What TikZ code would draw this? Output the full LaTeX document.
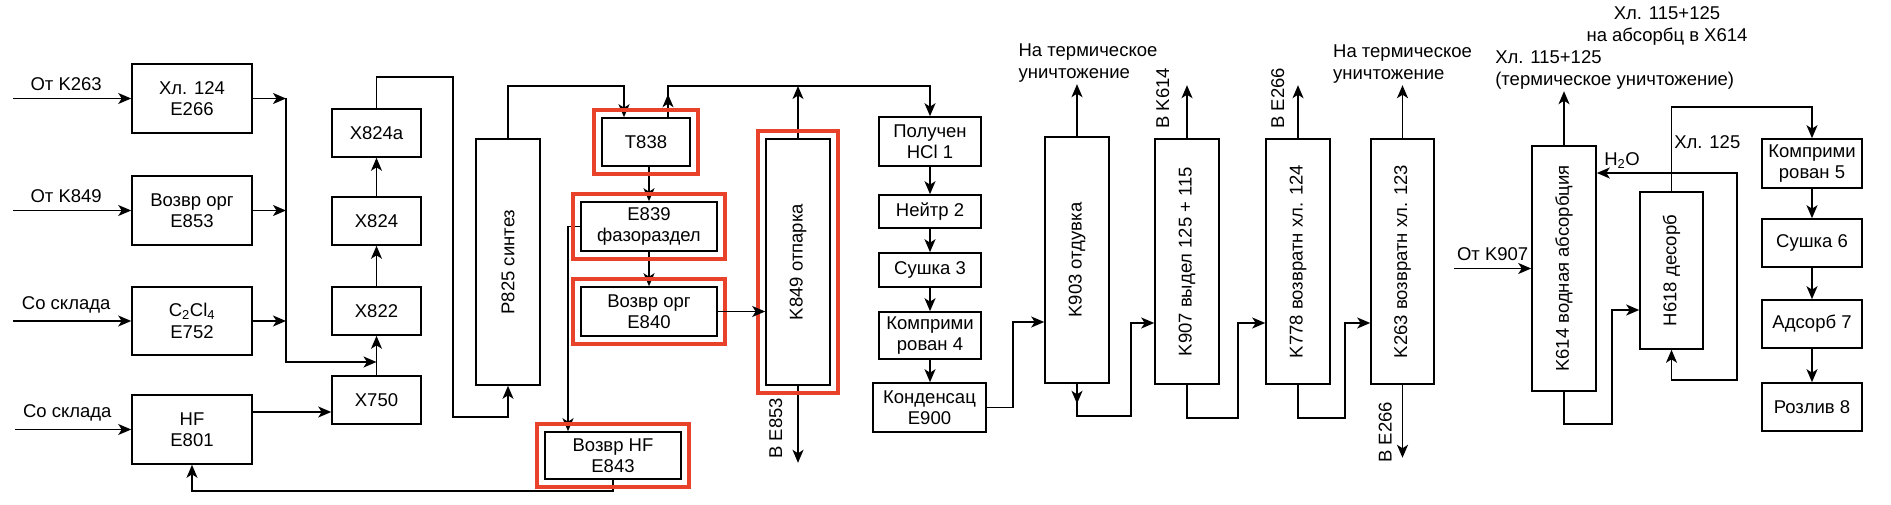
\documentclass[tikz,border=0pt]{standalone}
\usepackage{fontspec}
\setmainfont{Liberation Sans}
\usepackage{graphicx}
\usetikzlibrary{arrows.meta,fit}
\definecolor{hlred}{RGB}{232,67,42}

\begin{document}
\begin{tikzpicture}[x=1pt,y=-1pt,line width=1.6pt,
  >={Stealth[length=13pt,width=11pt,inset=3.5pt]},
  font=\fontsize{18.5}{21.5}\selectfont,
  box/.style={draw,inner sep=0pt,align=center},
  sz/.style 2 args={minimum width=#1,minimum height=#2},
  hl/.style={draw=hlred,line width=4.5pt,inner sep=7pt},
  note/.style={align=left,inner sep=1.5pt},
  side/.style={rotate=90,anchor=south,inner sep=#1}]
  \useasboundingbox (0,0) rectangle (1891,505);

  % feed tanks
  \node[box,sz={120}{69}] (e266) at (192,98.5) {Хл. 124\\E266};
  \node[box,sz={120}{69}] (e853) at (192,210.5) {Возвр орг\\E853};
  \node[box,sz={120}{68}] (e752) at (192,321) {C\textsubscript{2}Cl\textsubscript{4}\\E752};
  \node[box,sz={120}{69}] (e801) at (192,429.5) {HF\\E801};
  \node[box,sz={89}{48}] (x824a) at (376.5,133) {X824a};
  \node[box,sz={89}{48}] (x824) at (376.5,221) {X824};
  \node[box,sz={89}{48}] (x822) at (376.5,311) {X822};
  \node[box,sz={89}{48}] (x750) at (376.5,400) {X750};

  % synthesis
  \node[box,sz={64}{246}] (p825) at (508,262) {\rotatebox{90}{P825 синтез}};
  \node[box,sz={88}{48}] (t838) at (646,142) {T838};
  \node[box,sz={136}{49}] (e839) at (649,226.5) {E839\\фазораздел};
  \node[box,sz={136}{49}] (e840) at (649,311.5) {Возвр орг\\E840};
  \node[box,sz={136}{47}] (e843) at (613,455.5) {Возвр HF\\E843};
  \node[box,sz={64}{246}] (k849) at (798,262) {\rotatebox{90}{K849 отпарка}};

  % HCl line
  \node[box,sz={102}{49}] (hcl1) at (930,141.5) {Получен\\HCl 1};
  \node[box,sz={102}{33}] (n2) at (930,211.5) {Нейтр 2};
  \node[box,sz={102}{34}] (s3) at (930,270) {Сушка 3};
  \node[box,sz={102}{47}] (c4) at (930,335.5) {Комприми\\рован 4};
  \node[box,sz={113}{49}] (e900) at (929.5,407.5) {Конденсац\\E900};

  % columns
  \node[box,sz={64}{246}] (k903) at (1077,260) {\rotatebox{90}{K903 отдувка}};
  \node[box,sz={64}{245}] (k907) at (1187,261.5) {\rotatebox{90}{K907 выдел 125 + 115}};
  \node[box,sz={64}{245}] (k778) at (1298,261.5) {\rotatebox{90}{K778 возвратн хл. 124}};
  \node[box,sz={63}{245}] (k263) at (1402.5,261.5) {\rotatebox{90}{K263 возвратн хл. 123}};
  \node[box,sz={64}{245}] (k614) at (1564,268.5) {\rotatebox{90}{K614 водная абсорбция}};
  \node[box,sz={63}{157}] (h618) at (1671.5,270.5) {\rotatebox{90}{H618 десорб}};
  \node[box,sz={100}{49}] (c5) at (1812,163.5) {Комприми\\рован 5};
  \node[box,sz={100}{48}] (s6) at (1812,243) {Сушка 6};
  \node[box,sz={100}{48}] (a7) at (1812,324) {Адсорб 7};
  \node[box,sz={100}{48}] (r8) at (1812,407) {Розлив 8};

  \coordinate (in1) at (13,98.5);
  \coordinate (in2) at (13,210.5);
  \coordinate (in3) at (13,321);
  \coordinate (in4) at (15,429.5);
  \coordinate (in5) at (1454,268.5);
  \coordinate (bus) at (286,0);

  \draw[->] (in1) -- node[above=4pt,pos=.45] {От K263} (e266.west);
  \draw[->] (in2) -- node[above=4pt,pos=.45] {От K849} (e853.west);
  \draw[->] (in3) -- node[above=4pt,pos=.45] {Со склада} (e752.west);
  \draw[->] (in4) -- node[above=4pt,pos=.45] {Со склада} (e801.west);
  \draw[->] (e266.east) -- (e266.east -| bus);
  \draw[->] (e853.east) -- (e853.east -| bus);
  \draw[->] (e752.east) -- (e752.east -| bus);
  \draw[->] (e266.east -| bus) |- (x750.north |- 0,362);
  \draw[->] ([yshift=17.5pt]e801.east) -- ([yshift=17.5pt]e801.east -| x750.west);
  \draw[->] (x750) -- (x822);
  \draw[->] (x822) -- (x824);
  \draw[->] (x824) -- (x824a);
  \draw[->] (x824a.north) -- ++(0,-31) -| (453,417) -| (p825.south);
  \draw[->] (p825.north) |- (624,86) -- (t838.north -| 624,0);
  \draw[->] ([xshift=22pt]t838.north) |- (hcl1.north |- 0,86) -- (hcl1.north);
  \draw[->] ([xshift=22pt]t838.north) -- ++(0,-23);
  \draw[->] (k849.north) -- (k849.north |- 0,86);
  \draw[->] (e839.north |- t838.south) -- (e839.north);
  \draw[->] (e839) -- (e840);
  \draw[->] (k849.south) -- ++(0,77) node[pos=.55,side=15pt] {В E853};
  \draw[->] (e839.west) -| (e843.north -| 568,0);
  \draw[->] (e843.south) -- ++(0,11) -| (e801.south);

  \draw[->] (hcl1) -- (n2);
  \draw[->] (n2) -- (s3);
  \draw[->] (s3) -- (c4);
  \draw[->] (c4.south) -- (c4.south |- e900.north);
  \draw[->] (e900.east) -| (1013,322) -- (k903.west |- 0,322);
  \draw[->] (k903.north) -- ++(0,-52)
    node[above,note,xshift=11pt] {На термическое\\уничтожение};
  \draw[->] (k903.south) -- ++(0,20);
  \draw[->] (k903.south) -- ++(0,32) -| (1131,323) -- (k907.west |- 0,323);
  \draw[->] (k907.north) -- ++(0,-53) node[pos=.75,side=17pt] {В K614};
  \draw[->] (k907.south) -- ++(0,33) -| (1238,323) -- (k778.west |- 0,323);
  \draw[->] (k778.north) -- ++(0,-53) node[pos=.75,side=13pt] {В E266};
  \draw[->] (k778.south) -- ++(0,33) -| (1345,323) -- (k263.west |- 0,323);
  \draw[->] (k263.north) -- ++(0,-53)
    node[above,note] {На термическое\\уничтожение};
  \draw[->] (k263.south) -- ++(0,73) node[pos=.65,side=10pt] {В E266};

  \draw[->] (in5) -- node[above=4pt] {От K907} (k614.west);
  \draw[->] (k614.north) -- ++(0,-54)
    node[anchor=south west,xshift=-71pt,note] {Хл. 115+125\\(термическое уничтожение)};
  \draw[->] (k614.south) -- ++(0,32) -| (1612,310) -- (h618.west |- 0,310);
  \draw[<->] (h618.south) |- (1737,380) |- (k614.east |- 0,173)
    node[pos=.91,above] {H\textsubscript{2}O};
  \draw[->] (h618.north) |- (c5.north |- 0,107)
    node[pos=.29,anchor=west,inner sep=2pt] {Хл. 125} -- (c5.north);
  \draw[->] (c5) -- (s6);
  \draw[->] (s6) -- (a7);
  \draw[->] (a7) -- (r8);
  \node[align=center] (n614) at (1667,26) {Хл. 115+125\\на абсорбц в X614};

  % highlighted units
  \node[hl,fit=(t838)] (t838hl) {};
  \node[hl,fit=(e839)] (e839hl) {};
  \node[hl,fit=(e840)] (e840hl) {};
  \node[hl,fit=(e843)] (e843hl) {};
  \node[hl,fit=(k849)] (k849hl) {};
  \draw[->] (e840.east) -- (e840.east -| k849.west);
\end{tikzpicture}
\end{document}
